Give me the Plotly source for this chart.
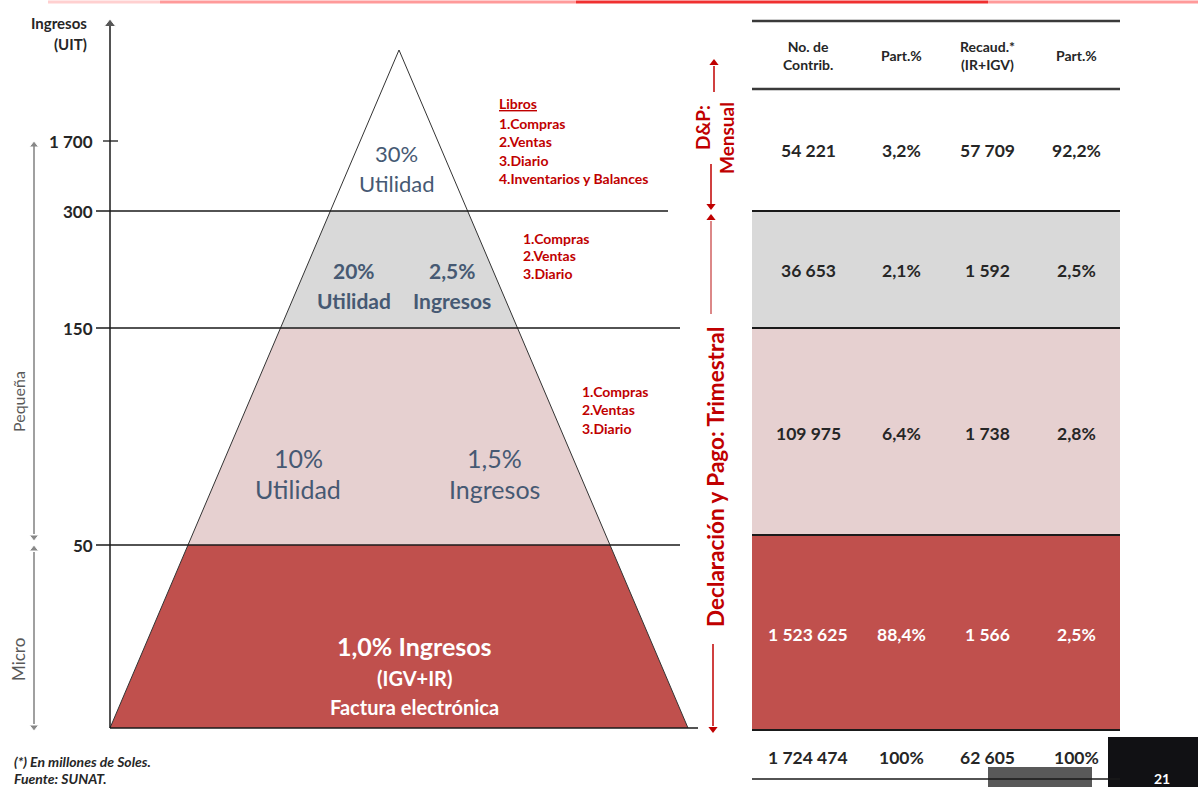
import plotly.graph_objects as go

# ── Data ──────────────────────────────────────────────────────────────────────
limites_uit = ["1 700", "300", "150", "50"]          # income thresholds (UIT)
segmentos = ["Pequeña", "Micro"]

# pyramid bands, top to bottom: (first line, second line)
tasas_izq = [("30%", "Utilidad"), ("20%", "Utilidad"), ("10%", "Utilidad"), ("1,0% Ingresos", "(IGV+IR)")]
tasas_der = [None, ("2,5%", "Ingresos"), ("1,5%", "Ingresos"), None]
nota_micro = "Factura electrónica"

libros_titulo = "Libros"
libros = [
    ["1.Compras", "2.Ventas", "3.Diario", "4.Inventarios y Balances"],
    ["1.Compras", "2.Ventas", "3.Diario"],
    ["1.Compras", "2.Ventas", "3.Diario"],
]

regimen_mensual = ["D&P:", "Mensual"]
regimen_trimestral = "Declaración y Pago: Trimestral"

cabecera = ["No. de<br>Contrib.", "Part.%", "Recaud.*<br>(IR+IGV)", "Part.%"]
contribuyentes = [54221, 36653, 109975, 1523625]
part_contrib = [3.2, 2.1, 6.4, 88.4]
recaudacion = [57709, 1592, 1738, 1566]
part_recaud = [92.2, 2.5, 2.8, 2.5]
totales = [1724474, 100, 62605, 100]

notas = ["(*) En millones de Soles.", "Fuente: SUNAT."]
pagina = "21"

# ── Layout constants (pixel-like canvas) ─────────────────────────────────────
W, H = 1198, 787
FONT = "Lato, 'Open Sans', sans-serif"
RED = "#C00000"
BAND_FILL = ["#FFFFFF", "#D9D9D9", "#E6D0D0", "#C0504D"]
TXT_BLUE = "#465973"
DARK = "#262626"

apex = (399, 50)
base_y, base_l, base_r = 728, 110, 688
level_y = [211, 328, 545]          # 300 / 150 / 50 lines in the pyramid
table_y = [89, 211, 328, 535, 730]  # table row borders
table_x0, table_x1 = 752, 1120
col_x = [808, 901, 987, 1076]


def fmt_int(v):
    return f"{v:,}".replace(",", " ")


def fmt_pct(v):
    return f"{v:.0f}%" if v == 100 else f"{v:.1f}%".replace(".", ",")


def edge_x(y):
    k = (apex[0] - base_l) / (base_y - apex[1])
    return apex[0] - k * (y - apex[1]), apex[0] + k * (y - apex[1])


fig = go.Figure()

# ── Pyramid bands ────────────────────────────────────────────────────────────
bounds = [apex[1]] + level_y + [base_y]
for i in range(4):
    y0, y1 = bounds[i], bounds[i + 1]
    l0, r0 = edge_x(y0)
    l1, r1 = edge_x(y1)
    fig.add_trace(go.Scatter(
        x=[l0, r0, r1, l1, l0], y=[y0, y0, y1, y1, y0],
        mode="lines", fill="toself", fillcolor=BAND_FILL[i],
        line=dict(width=0), hoverinfo="skip", showlegend=False,
    ))
fig.add_trace(go.Scatter(
    x=[base_l, apex[0], base_r], y=[base_y, apex[1], base_y],
    mode="lines", line=dict(color="#333333", width=1),
    hoverinfo="skip", showlegend=False,
))

shapes = []


def hline(y, x0, x1, color="#1a1a1a", width=1.3):
    shapes.append(dict(type="line", xref="x", yref="y", x0=x0, x1=x1, y0=y, y1=y,
                       line=dict(color=color, width=width)))


def vline(x, y0, y1, color="#1a1a1a", width=1.3):
    shapes.append(dict(type="line", xref="x", yref="y", x0=x, x1=x, y0=y0, y1=y1,
                       line=dict(color=color, width=width)))


# level lines + axis
hline(level_y[0], 96, 668)
hline(level_y[1], 96, 680)
hline(level_y[2], 96, 680)
hline(base_y, 110, 698)
hline(141, 103, 118)
vline(110, 26, base_y, width=1.5)

# table fills and borders
for i, fill in enumerate(BAND_FILL[1:], start=1):
    shapes.append(dict(type="rect", xref="x", yref="y", x0=table_x0, x1=table_x1,
                       y0=table_y[i], y1=table_y[i + 1], fillcolor=fill, line=dict(width=0),
                       layer="below"))
# page furniture at bottom-right
shapes.append(dict(type="rect", xref="x", yref="y", x0=988, x1=1092, y0=767, y1=790,
                   fillcolor="#595959", line=dict(width=0)))
shapes.append(dict(type="rect", xref="x", yref="y", x0=1108, x1=1200, y0=737, y1=790,
                   fillcolor="#111114", line=dict(width=0)))
hline(21, table_x0, table_x1, color="#3a3a3a", width=2.5)
hline(table_y[0], table_x0, table_x1, color="#3a3a3a", width=2.5)
for y in table_y[1:]:
    hline(y, table_x0, table_x1, color="#1a1a1a", width=2)
hline(779, table_x0, table_x1, color="#1a1a1a", width=1.5)

# top decorative line
hline(2, 48, 160, color="#FFD0D0", width=3)
hline(2, 160, 576, color="#FF9A9A", width=3)
hline(2, 576, 988, color="#F03030", width=3)
hline(2, 988, W, color="#FF9A9A", width=3)

# segment arrows (left) and regime arrows (right)
vline(34, 146, 534, color="#808080", width=1.5)
vline(34, 552, 724, color="#808080", width=1.5)
vline(714, 66, 92, color=RED, width=1.5)
vline(711, 164, 204, color=RED, width=1.5)
vline(711, 221, 314, color="#D06060", width=1.5)
vline(713, 644, 726, color=RED, width=1.5)

fig.add_trace(go.Scatter(
    x=[110, 34, 34, 34, 34], y=[24, 145, 537, 549, 727],
    mode="markers",
    marker=dict(symbol=["triangle-up", "triangle-up", "triangle-down", "triangle-up", "triangle-down"],
                size=[10, 8, 8, 8, 8], color=["#111111"] + ["#555555"] * 4),
    hoverinfo="skip", showlegend=False,
))
fig.add_trace(go.Scatter(
    x=[714, 711, 711, 713], y=[63, 206, 218, 729],
    mode="markers",
    marker=dict(symbol=["triangle-up", "triangle-down", "triangle-up", "triangle-down"],
                size=8, color=RED),
    hoverinfo="skip", showlegend=False,
))

ann = []


def text(x, y, s, size=12, color=DARK, bold=False, italic=False, xanchor="center", angle=0):
    if bold:
        s = f"<b>{s}</b>"
    if italic:
        s = f"<i>{s}</i>"
    ann.append(dict(x=x, y=y, xref="x", yref="y", text=s, showarrow=False,
                    xanchor=xanchor, yanchor="middle", textangle=angle,
                    font=dict(family=FONT, size=size, color=color)))


# axis title and tick labels
text(89, 23, "Ingresos", size=15, bold=True, xanchor="right")
text(89, 44, "(UIT)", size=15, bold=True, xanchor="right")
for lab, y in zip(limites_uit, [141] + level_y):
    text(95, y, lab, size=17, bold=True, xanchor="right")
text(18, 402, segmentos[0], size=16, color="#595959", angle=-90)
text(18, 660, segmentos[1], size=17, color="#595959", angle=-90)

# pyramid rates
text(396, 153, tasas_izq[0][0], size=22, color=TXT_BLUE)
text(397, 183, tasas_izq[0][1], size=22, color=TXT_BLUE)
text(354, 270, tasas_izq[1][0], size=21, color=TXT_BLUE, bold=True)
text(354, 300, tasas_izq[1][1], size=21, color=TXT_BLUE, bold=True)
text(452, 270, tasas_der[1][0], size=21, color=TXT_BLUE, bold=True)
text(452, 300, tasas_der[1][1], size=21, color=TXT_BLUE, bold=True)
text(298, 458, tasas_izq[2][0], size=25, color=TXT_BLUE)
text(298, 489, tasas_izq[2][1], size=25, color=TXT_BLUE)
text(494, 458, tasas_der[2][0], size=25, color=TXT_BLUE)
text(494, 489, tasas_der[2][1], size=25, color=TXT_BLUE)
text(414, 646, tasas_izq[3][0], size=25, color="white", bold=True)
text(414, 678, tasas_izq[3][1], size=20, color="white", bold=True)
text(414, 707, nota_micro, size=20, color="white", bold=True)

# accounting books lists
text(497, 103, f"<u>{libros_titulo}</u>", size=14, color=RED, bold=True, xanchor="left")
for j, item in enumerate(libros[0]):
    text(497, 123 + j * 18.5, item, size=14, color=RED, bold=True, xanchor="left")
for j, item in enumerate(libros[1]):
    text(521, 238 + j * 17.5, item, size=14, color=RED, bold=True, xanchor="left")
for j, item in enumerate(libros[2]):
    text(580, 391 + j * 18.5, item, size=14, color=RED, bold=True, xanchor="left")

# regime labels
text(702, 128, regimen_mensual[0], size=19, color=RED, bold=True, angle=-90)
text(726, 138, regimen_mensual[1], size=19, color=RED, bold=True, angle=-90)
text(715, 477, regimen_trimestral, size=22.5, color=RED, bold=True, angle=-90)

# table
for x, h in zip(col_x, cabecera):
    text(x, 55, h, size=14, bold=True)
row_y = [150, 270, 433, 634]
for i, y in enumerate(row_y):
    c = "white" if i == 3 else DARK
    vals = [fmt_int(contribuyentes[i]), fmt_pct(part_contrib[i]),
            fmt_int(recaudacion[i]), fmt_pct(part_recaud[i])]
    for x, v in zip(col_x, vals):
        text(x, y, v, size=17.5, color=c, bold=True)
tot = [fmt_int(totales[0]), fmt_pct(totales[1]), fmt_int(totales[2]), fmt_pct(totales[3])]
for x, v in zip(col_x, tot):
    text(x, 757, v, size=17.5, bold=True)

# footnotes and page number
text(12, 761, notas[0], size=14, bold=True, italic=True, xanchor="left")
text(12, 778, notas[1], size=14, bold=True, italic=True, xanchor="left")
text(1162, 778, pagina, size=14, color="white", bold=True)

fig.update_layout(
    width=W, height=H,
    margin=dict(l=0, r=0, t=0, b=0),
    paper_bgcolor="white", plot_bgcolor="white",
    xaxis=dict(range=[0, W], visible=False, fixedrange=True),
    yaxis=dict(range=[H, 0], visible=False, fixedrange=True),
    shapes=shapes, annotations=ann,
    showlegend=False,
)

# the page's default body margin would push the canvas 8px off the window origin
fig.write_html("out.html", config={"displayModeBar": False},
               post_script="document.body.style.margin='0';")
